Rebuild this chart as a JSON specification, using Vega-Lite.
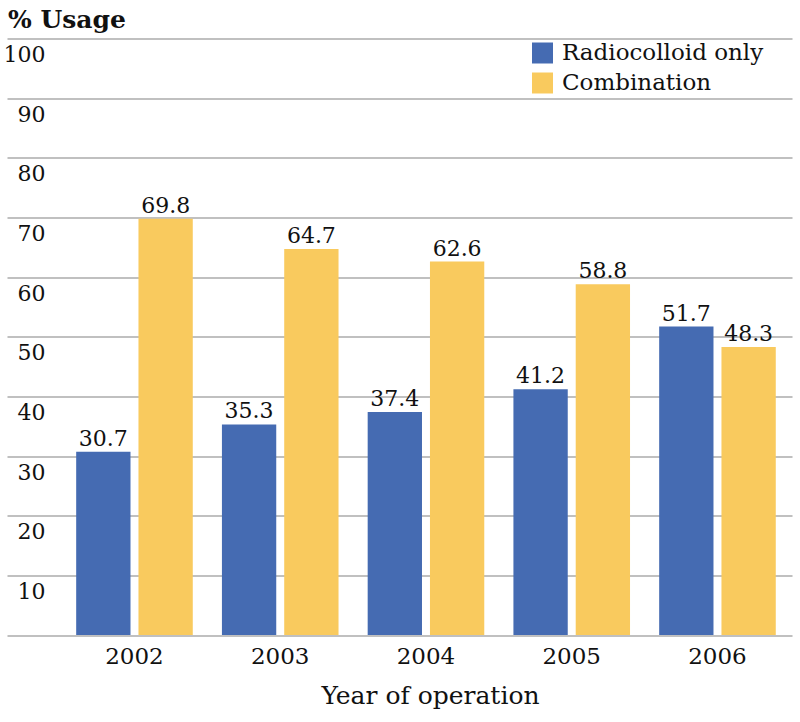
{
  "$schema": "https://vega.github.io/schema/vega-lite/v6.json",
  "autosize": {"type": "none"},
  "width": 785,
  "height": 596.5,
  "padding": {"left": 7, "top": 38.5, "right": 8, "bottom": 87},
  "background": "white",
  "title": {
    "text": "% Usage",
    "anchor": "start",
    "frame": "group",
    "font": "DejaVu Serif",
    "fontSize": 25,
    "fontWeight": "bold",
    "color": "#111111",
    "offset": 6,
    "dx": 1
  },
  "config": {
    "view": {"stroke": null},
    "font": "DejaVu Serif"
  },
  "data": {
    "values": [
      {"year": "2002", "series": "Radiocolloid only", "value": 30.7},
      {"year": "2002", "series": "Combination", "value": 69.8},
      {"year": "2003", "series": "Radiocolloid only", "value": 35.3},
      {"year": "2003", "series": "Combination", "value": 64.7},
      {"year": "2004", "series": "Radiocolloid only", "value": 37.4},
      {"year": "2004", "series": "Combination", "value": 62.6},
      {"year": "2005", "series": "Radiocolloid only", "value": 41.2},
      {"year": "2005", "series": "Combination", "value": 58.8},
      {"year": "2006", "series": "Radiocolloid only", "value": 51.7},
      {"year": "2006", "series": "Combination", "value": 48.3}
    ]
  },
  "encoding": {
    "x": {
      "field": "year",
      "type": "nominal",
      "scale": {"paddingInner": 0.2, "paddingOuter": 0.293, "align": 0.81},
      "axis": {
        "title": "Year of operation",
        "labelAngle": 0,
        "labelFont": "DejaVu Serif",
        "labelFontSize": 23,
        "labelColor": "#111111",
        "labelPadding": 10,
        "ticks": false,
        "domain": false,
        "titleFont": "DejaVu Serif",
        "titleFontSize": 25,
        "titleFontWeight": "normal",
        "titleColor": "#111111",
        "titlePadding": 15,
        "titleX": 423,
        "titleAnchor": "middle"
      }
    },
    "xOffset": {
      "field": "series",
      "type": "nominal",
      "sort": ["Radiocolloid only", "Combination"],
      "scale": {"paddingInner": 0.128}
    },
    "y": {
      "field": "value",
      "type": "quantitative",
      "scale": {"domain": [0, 100], "nice": false},
      "axis": {
        "title": null,
        "values": [0, 10, 20, 30, 40, 50, 60, 70, 80, 90, 100],
        "labelExpr": "datum.value == 0 ? '' : datum.label",
        "grid": true,
        "gridColor": "#ababab",
        "gridWidth": 1.6,
        "domain": false,
        "ticks": false,
        "labelPadding": -38,
        "labelAlign": "right",
        "labelBaseline": "top",
        "labelOffset": 6,
        "labelFont": "DejaVu Serif",
        "labelFontSize": 22,
        "labelColor": "#111111"
      }
    }
  },
  "layer": [
    {
      "mark": {"type": "bar"},
      "encoding": {
        "color": {
          "field": "series",
          "type": "nominal",
          "sort": ["Radiocolloid only", "Combination"],
          "scale": {"domain": ["Radiocolloid only", "Combination"], "range": ["#456BB2", "#F9CA5E"]},
          "legend": {
            "title": null,
            "orient": "none",
            "legendX": 524,
            "legendY": 3,
            "symbolType": "square",
            "symbolSize": 441,
            "symbolStrokeWidth": 0,
            "labelFont": "DejaVu Serif",
            "labelFontSize": 23,
            "labelColor": "#111111",
            "labelOffset": 8,
            "labelLimit": 400,
            "rowPadding": 6
          }
        }
      }
    },
    {
      "mark": {"type": "text", "baseline": "alphabetic", "dy": -6, "font": "DejaVu Serif", "fontSize": 22, "color": "#111111"},
      "encoding": {
        "text": {"field": "value", "type": "quantitative", "format": ".1f"}
      }
    }
  ]
}
